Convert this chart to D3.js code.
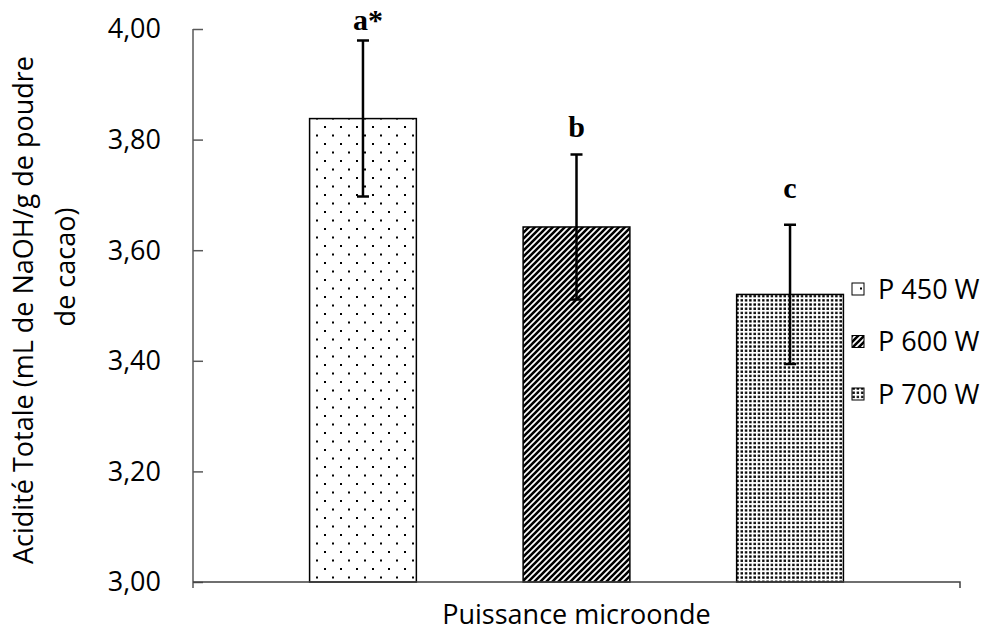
<!DOCTYPE html>
<html><head><meta charset="utf-8">
<script src="https://cdn.jsdelivr.net/npm/d3@7"></script>
<style>body{margin:0;background:#fff}svg{display:block}</style>
</head><body>
<svg id="chart" width="989" height="637"></svg>
<script>
const seriesNames = ["P 450 W", "P 600 W", "P 700 W"];
const values = [3.838, 3.642, 3.520];
const errors = [0.141, 0.131, 0.126];
const letters = ["a*", "b", "c"];
const letterY = [3.998, 3.805, 3.694];
const yTicks = [3.0, 3.2, 3.4, 3.6, 3.8, 4.0];
const xTitle = "Puissance microonde";
const yTitle = ["Acidité Totale (mL de NaOH/g de poudre", "de cacao)"];

const svg = d3.select("#chart");
const L = 193, R = 960, T = 29, B = 582;
const font = "'Open Sans', sans-serif";
const fs = 27;

const defs = svg.append("defs");
// sparse dots
const p1 = defs.append("pattern").attr("id","pat0").attr("patternUnits","userSpaceOnUse")
  .attr("width",16).attr("height",17).attr("x",L).attr("y",B);
p1.append("rect").attr("width",16).attr("height",17).attr("fill","#fff");
p1.append("rect").attr("x",3).attr("y",3).attr("width",2).attr("height",2).attr("fill","#000");
p1.append("rect").attr("x",11).attr("y",11.5).attr("width",2).attr("height",2).attr("fill","#000");
// diagonal stripes
const p2 = defs.append("pattern").attr("id","pat1").attr("patternUnits","userSpaceOnUse")
  .attr("width",6).attr("height",6);
p2.append("rect").attr("width",6).attr("height",6).attr("fill","#fff");
p2.append("path").attr("d","M-1,7 L7,-1 M-1,1 L1,-1 M5,7 L7,5").attr("stroke","#000").attr("stroke-width",2.6);
// dense dots
const p3 = defs.append("pattern").attr("id","pat2").attr("patternUnits","userSpaceOnUse")
  .attr("width",4.3).attr("height",4.2);
p3.append("rect").attr("width",4.3).attr("height",4.2).attr("fill","#fff");
p3.append("rect").attr("x",1).attr("y",1).attr("width",2.4).attr("height",2.3).attr("fill","#000");

const y = d3.scaleLinear().domain([3, 4]).range([B, T]);
const x = d3.scaleBand().domain(seriesNames).range([L, R]).paddingInner(0.5).paddingOuter(0.546);
const fmt = v => d3.format(".2f")(v).replace(".", ",");

// y axis
const yAxis = svg.append("g").attr("transform", `translate(${L},0)`)
  .call(d3.axisRight(y).tickValues(yTicks).tickSize(10).tickFormat(""));
yAxis.select(".domain").attr("stroke","#595959").attr("stroke-width",1.5).attr("d",`M0,${T}V${B+6}`);
yAxis.selectAll(".tick line").attr("stroke","#595959").attr("stroke-width",1.5);
svg.append("g").selectAll("text").data(yTicks).join("text")
  .attr("x", 161).attr("y", d => y(d)).attr("dy","0.35em")
  .attr("text-anchor","end").attr("font-family",font).attr("font-size",fs).attr("fill","#000")
  .text(fmt);

// bars
svg.append("g").selectAll("rect").data(values).join("rect")
  .attr("x",(d,i)=>x(seriesNames[i])).attr("width",x.bandwidth())
  .attr("y",d=>y(d)).attr("height",d=>B-y(d))
  .attr("fill",(d,i)=>`url(#pat${i})`).attr("stroke","#000").attr("stroke-width",1.5);

// x axis
svg.append("path").attr("d",`M${L},${B}H${R}V${B+6}`).attr("fill","none").attr("stroke","#404040").attr("stroke-width",1.5);

// error bars
const eb = svg.append("g").attr("stroke","#000").attr("stroke-width",2.5).attr("fill","none");
values.forEach((v,i)=>{
  const cx = x(seriesNames[i]) + x.bandwidth()/2;
  const y1 = y(v+errors[i]), y2 = y(v-errors[i]);
  eb.append("path").attr("d",`M${cx},${y1}V${y2}M${cx-6},${y1}H${cx+6}M${cx-6},${y2}H${cx+6}`);
});

// letters
svg.append("g").selectAll("text").data(letters).join("text")
  .attr("x",(d,i)=>x(seriesNames[i]) + x.bandwidth()/2 + (d.length>1?5:0))
  .attr("y",(d,i)=>y(letterY[i]))
  .attr("text-anchor","middle").attr("font-family","'Liberation Serif', 'Times New Roman', serif")
  .attr("font-weight","bold").attr("font-size",30).text(d=>d);

// legend
const lg = svg.append("g");
seriesNames.forEach((s,i)=>{
  const cy = 289 + i*52.5;
  lg.append("rect").attr("x",852).attr("y",cy-6).attr("width",12).attr("height",12)
    .attr("fill",`url(#pat${i})`).attr("stroke","#000").attr("stroke-width",1);
  lg.append("text").attr("x",878).attr("y",cy).attr("dy","0.36em")
    .attr("font-family",font).attr("font-size",fs).text(s);
});

// titles
svg.append("text").attr("x",(L+R)/2).attr("y",624).attr("text-anchor","middle")
  .attr("font-family",font).attr("font-size",fs).text(xTitle);
svg.append("text").attr("transform","translate(33,310) rotate(-90)").attr("text-anchor","middle")
  .attr("font-family",font).attr("font-size",fs).text(yTitle[0]);
svg.append("text").attr("transform","translate(75,267) rotate(-90)").attr("text-anchor","middle")
  .attr("font-family",font).attr("font-size",fs).text(yTitle[1]);
</script>
</body></html>
